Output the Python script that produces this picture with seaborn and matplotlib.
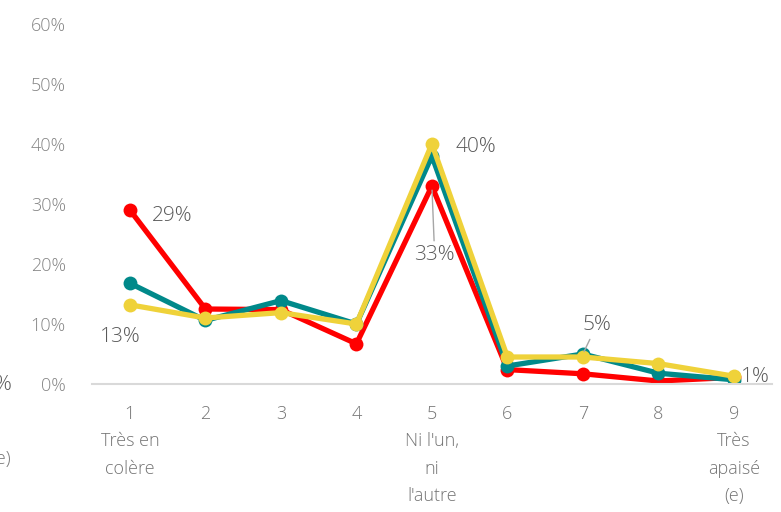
import matplotlib
matplotlib.use("Agg")
import matplotlib.pyplot as plt
import seaborn as sns
import pandas as pd

# Scale positions 1..9 and their axis labels
scale = [1, 2, 3, 4, 5, 6, 7, 8, 9]
tick_labels = ["1\nTrès en\ncolère", "2", "3", "4", "5\nNi l'un,\nni\nl'autre",
               "6", "7", "8", "9\nTrès\napaisé\n(e)"]

# Share of respondents (%) for each point of the scale
serie_rouge = [29, 12.5, 12.4, 6.7, 33, 2.4, 1.7, 0.5, 1.1]
serie_bleue = [16.8, 10.6, 13.9, 10, 38, 3.0, 5.0, 1.8, 0.7]
serie_jaune = [13.2, 11.0, 11.9, 10, 40, 4.5, 4.5, 3.4, 1.3]

series_names = ["Série 1", "Série 2", "Série 3"]
palette = {"Série 1": "#FF0000", "Série 2": "#00898A", "Série 3": "#EFD23A"}

df = pd.concat([
    pd.DataFrame({"note": scale, "pct": vals, "serie": name})
    for name, vals in zip(series_names, [serie_rouge, serie_bleue, serie_jaune])
])

sns.set_theme(style="white")
plt.rcParams["font.family"] = ["Open Sans", "DejaVu Sans"]
plt.rcParams["font.weight"] = "light"

fig = plt.figure(figsize=(7.81, 5.12), dpi=100)
ax = fig.add_axes([0.118, 0.25, 0.870, 0.703])

sns.lineplot(data=df, x="note", y="pct", hue="serie", hue_order=series_names,
             palette=palette, marker="o", markersize=10, markeredgewidth=0,
             linewidth=3.8, legend=False, ax=ax)

ax.set_xlim(0.5, 9.5)
ax.set_ylim(0, 60)
ax.set_xticks(scale)
ax.set_xticklabels(tick_labels, linespacing=1.68)
ax.set_yticks(range(0, 61, 10))
ax.set_yticklabels([f"{v}%" for v in range(0, 61, 10)])
ax.tick_params(axis="x", length=0, pad=15, labelsize=13, labelcolor="#757575")
ax.tick_params(axis="y", length=0, pad=19, labelsize=13, labelcolor="#858585")
for lbl in ax.get_xticklabels():
    lbl.set_verticalalignment("top")
ax.set_xlabel("")
ax.set_ylabel("")
for side in ["top", "right", "left"]:
    ax.spines[side].set_visible(False)
ax.spines["bottom"].set_color("#D9D9D9")
ax.spines["bottom"].set_linewidth(1.5)

lab = dict(fontsize=15, color="#595959")
leader = dict(arrowstyle="-", color="#A6A6A6", lw=1)
ax.annotate(f"{serie_rouge[0]:.0f}%", (1, serie_rouge[0]), xytext=(16, -4),
            textcoords="offset points", ha="left", va="center", **lab)
ax.annotate(f"{serie_jaune[0]:.0f}%", (1, serie_jaune[0]), xytext=(-7, -23),
            textcoords="offset points", ha="center", va="center", **lab)
ax.annotate(f"{serie_jaune[4]:.0f}%", (5, serie_jaune[4]), xytext=(17, -2),
            textcoords="offset points", ha="left", va="center", **lab)
ax.annotate(f"{serie_rouge[4]:.0f}%", (5, serie_rouge[4]), xytext=(2, -50),
            textcoords="offset points", ha="center", va="center",
            arrowprops=dict(shrinkA=1, shrinkB=3, **leader), **lab)
ax.annotate(f"{serie_bleue[6]:.0f}%", (7, serie_bleue[6]), xytext=(10, 21),
            textcoords="offset points", ha="center", va="center",
            arrowprops=dict(shrinkA=1, shrinkB=2, **leader), **lab)
ax.annotate(f"{serie_rouge[8]:.0f}%", (9, serie_rouge[8]), xytext=(5, 0),
            textcoords="offset points", ha="left", va="center", **lab)

# Edge of the neighbouring panel
fig.text(13 / 781, 1 - 385 / 512, "1%", ha="right", va="center", **lab)
fig.text(11 / 781, 1 - 459 / 512, "(e)", ha="right", va="center",
         fontsize=13, color="#757575")

fig.savefig("out.png", dpi=100)
